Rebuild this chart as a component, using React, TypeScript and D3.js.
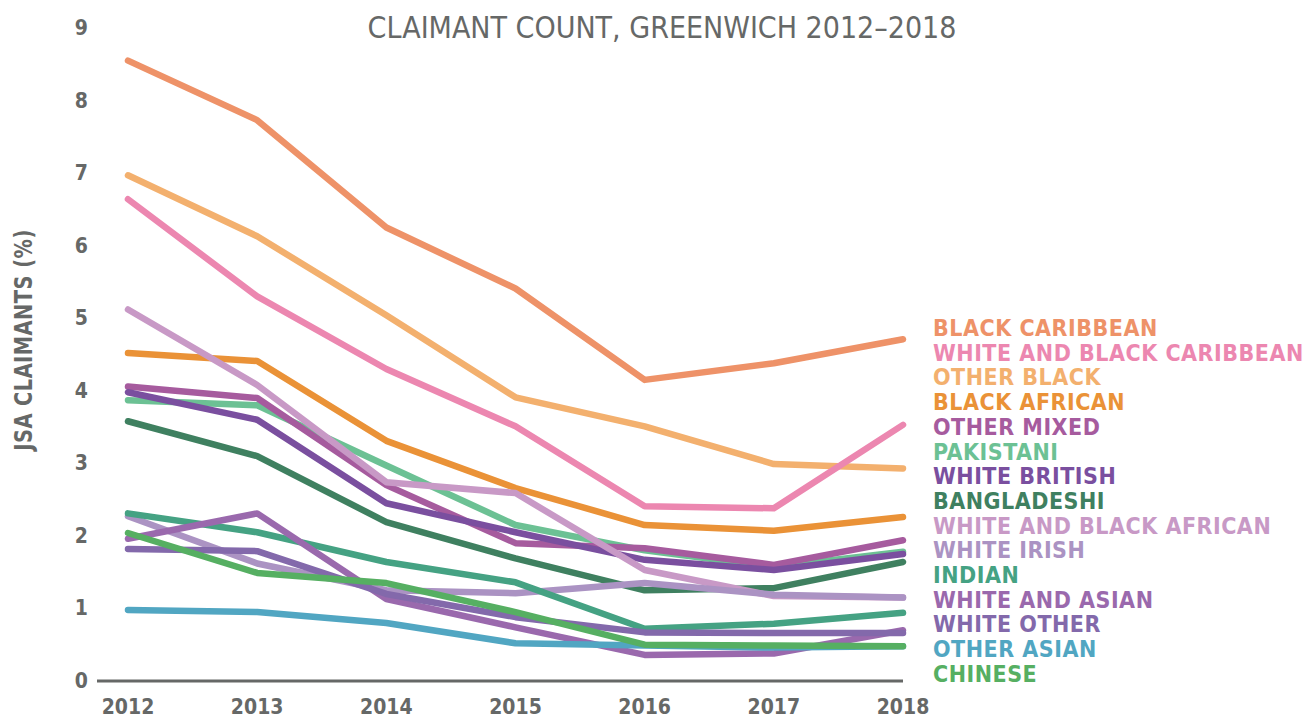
import React from "react";
import * as d3 from "d3";

const years = [2012, 2013, 2014, 2015, 2016, 2017, 2018];
const yTicks = [0, 1, 2, 3, 4, 5, 6, 7, 8, 9];

const seriesNames = [
  "BLACK CARIBBEAN",
  "WHITE AND BLACK CARIBBEAN",
  "OTHER BLACK",
  "BLACK AFRICAN",
  "OTHER MIXED",
  "PAKISTANI",
  "WHITE BRITISH",
  "BANGLADESHI",
  "WHITE AND BLACK AFRICAN",
  "WHITE IRISH",
  "INDIAN",
  "WHITE AND ASIAN",
  "WHITE OTHER",
  "OTHER ASIAN",
  "CHINESE",
];

const seriesColors = [
  "#ee9268",
  "#ec87b0",
  "#f3b06e",
  "#ea9237",
  "#a65b9e",
  "#6cc194",
  "#7a4f9f",
  "#3f8060",
  "#c899c6",
  "#ab93c3",
  "#45a283",
  "#9a69ad",
  "#8369ab",
  "#51a6c2",
  "#56af62",
];

const blackCaribbean = [8.55, 7.73, 6.25, 5.41, 4.15, 4.38, 4.71];
const whiteBlackCaribbean = [6.64, 5.3, 4.3, 3.51, 2.41, 2.38, 3.53];
const otherBlack = [6.97, 6.13, 5.04, 3.91, 3.51, 2.99, 2.93];
const blackAfrican = [4.52, 4.41, 3.31, 2.66, 2.15, 2.07, 2.26];
const otherMixed = [4.06, 3.9, 2.7, 1.9, 1.83, 1.6, 1.94];
const pakistani = [3.87, 3.8, 2.97, 2.15, 1.8, 1.57, 1.78];
const whiteBritish = [3.98, 3.6, 2.45, 2.05, 1.67, 1.53, 1.75];
const bangladeshi = [3.58, 3.1, 2.19, 1.69, 1.25, 1.28, 1.64];
const whiteBlackAfrican = [5.12, 4.08, 2.74, 2.59, 1.53, 1.17, 1.15];
const whiteIrish = [2.27, 1.62, 1.25, 1.21, 1.35, 1.19, 1.15];
const indian = [2.31, 2.05, 1.64, 1.36, 0.72, 0.79, 0.94];
const whiteAndAsian = [1.96, 2.31, 1.13, 0.74, 0.36, 0.38, 0.7];
const whiteOther = [1.82, 1.79, 1.2, 0.88, 0.67, 0.66, 0.66];
const otherAsian = [0.98, 0.95, 0.8, 0.52, 0.49, 0.46, 0.48];
const chinese = [2.04, 1.49, 1.35, 0.95, 0.5, 0.49, 0.48];

const seriesValues = [
  blackCaribbean,
  whiteBlackCaribbean,
  otherBlack,
  blackAfrican,
  otherMixed,
  pakistani,
  whiteBritish,
  bangladeshi,
  whiteBlackAfrican,
  whiteIrish,
  indian,
  whiteAndAsian,
  whiteOther,
  otherAsian,
  chinese,
];

const drawOrder = [0, 2, 1, 3, 5, 4, 6, 7, 8, 9, 10, 11, 12, 13, 14];

const FONT = "'Liberation Sans Narrow', 'DejaVu Sans Condensed', 'Roboto', sans-serif";
const GRAY = "#666867";

export default function App() {
  const W = 1315;
  const H = 720;
  const x = d3.scalePoint<number>().domain(years).range([128, 903]);
  const y = d3.scaleLinear().domain([0, 9]).range([681, 28]);
  const line = d3
    .line<number>()
    .x((_, i) => x(years[i]) as number)
    .y((d) => y(d));

  return (
    <svg
      width={W}
      height={H}
      style={{ position: "absolute", left: 0, top: 0, background: "#fff" }}
      fontFamily={FONT}
    >
      <text
        x={662}
        y={27}
        textAnchor="middle"
        dominantBaseline="central"
        fontSize={30}
        fill={GRAY}
      >
        CLAIMANT COUNT, GREENWICH 2012–2018
      </text>
      <text
        transform={`translate(24,340) rotate(-90) scale(0.9,1)`}
        textAnchor="middle"
        dominantBaseline="central"
        fontSize={24}
        fontWeight="bold"
        letterSpacing={0.5}
        fill={GRAY}
      >
        JSA CLAIMANTS (%)
      </text>
      {yTicks.map((t) => (
        <text
          key={t}
          x={88}
          y={y(t)}
          textAnchor="end"
          dominantBaseline="central"
          fontSize={21}
          fontWeight="bold"
          fill={GRAY}
        >
          {t}
        </text>
      ))}
      {years.map((yr) => (
        <text
          key={yr}
          x={x(yr)}
          y={714}
          textAnchor="middle"
          fontSize={21}
          fontWeight="bold"
          fill={GRAY}
        >
          {yr}
        </text>
      ))}
      <line x1={97} x2={903} y1={y(0)} y2={y(0)} stroke={GRAY} strokeWidth={3} />
      {drawOrder.map((i) => (
        <path
          key={seriesNames[i]}
          d={line(seriesValues[i]) || ""}
          fill="none"
          stroke={seriesColors[i]}
          strokeWidth={6.5}
          strokeLinecap="round"
          strokeLinejoin="round"
        />
      ))}
      {seriesNames.map((n, i) => (
        <text
          key={n}
          x={933}
          y={328 + i * 24.7}
          dominantBaseline="central"
          fontSize={23}
          fontWeight="bold"
          letterSpacing={0.5}
          fill={seriesColors[i]}
        >
          {n}
        </text>
      ))}
    </svg>
  );
}
